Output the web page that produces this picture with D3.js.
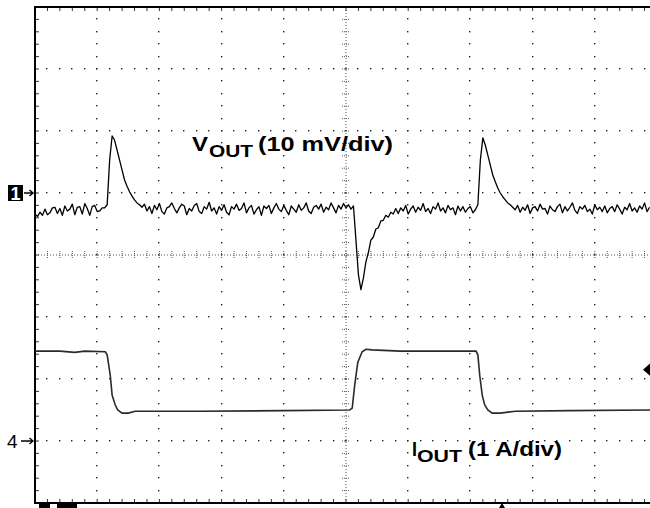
<!DOCTYPE html>
<html>
<head>
<meta charset="utf-8">
<script src="https://cdn.jsdelivr.net/npm/d3@7"></script>
<style>
  html, body { margin: 0; padding: 0; background: #fff; }
  svg { display: block; }
  .lbl { font-family: "Liberation Sans", Arial, sans-serif; font-weight: bold; fill: #000; }
</style>
</head>
<body>
<div id="scope"></div>
<script>
// load transient capture: ch1 = VOUT (10 mV/div, ac), ch4 = IOUT (1 A/div)

// ch1 record, one sample every sampleStep divisions, values in mV
var sampleStep = 0.04;
var voutMv = [
  -3.4,-3.8,-3.1,-3.6,-2.6,-3.5,-3.2,-2.4,-2.3,-3.3,-2.5,-3.6,-2.1,-2.9,-2.6,-1.8,-3.5,-2.3,-2.2,-3.4,-1.7,-2.5,-3.6,-2.2,-2.0,-3.0,-2.9,-2.4,
  -2.4,-1.9,5.3,9.2,8.5,6.9,5.3,3.7,2.1,1.1,0.2,-0.5,-1.1,-1.6,-1.9,-2.3,
  -1.8,-2.9,-2.2,-3.3,-2.0,-2.7,-1.7,-3.0,-3.4,-2.4,
  -2.2,-1.6,-2.5,-3.2,-2.4,-1.8,-2.1,-3.5,-2.5,-2.9,
  -2.0,-1.7,-3.0,-3.3,-2.2,-2.6,-1.5,-2.9,-2.4,-3.4,
  -2.2,-2.8,-1.9,-3.1,-3.5,-2.2,-2.6,-1.8,-2.8,-2.5,
  -1.6,-3.2,-2.4,-2.0,-3.4,-2.7,-2.2,-3.6,-2.1,-2.5,
  -2.0,-3.3,-2.4,-1.7,-2.6,-3.0,-2.0,-2.8,-3.5,-2.1,
  -2.6,-3.1,-1.9,-2.8,-2.4,-1.6,-2.9,-3.3,-2.3,-2.0,
  -2.6,-1.8,-3.1,-2.3,-2.7,-1.6,-2.4,-3.2,-2.0,-2.6,
  -1.7,-2.4,-1.9,-2.6,-2.1,
  -7.6,-13.2,-15.6,-13.7,-11.1,-9.6,-7.6,-7.1,-5.8,-5.6,-4.5,-4.4,-3.6,-3.9,-3.1,-3.4,
  -2.5,-3.3,-2.4,-2.9,-2.0,-3.4,-2.6,-2.1,-3.1,-2.3,
  -2.8,-1.7,-3.0,-2.5,-3.3,-2.2,-2.6,-1.6,-2.9,-2.4,
  -3.2,-2.0,-2.7,-2.4,-3.5,-2.1,-2.9,-2.2,-3.1,-2.5,
  -2.2,-3.2,-2.7,
  -1.9,5.3,8.9,7.7,6.1,4.5,2.9,1.8,0.8,0.0,-0.6,-1.1,-1.6,-1.9,-2.3,
  -2.7,-2.0,-3.1,-2.3,-2.8,-1.9,-3.3,-2.4,-2.2,-2.9,
  -1.8,-2.6,-2.5,-3.4,-2.1,-2.7,-3.0,-2.2,-1.8,-3.2,
  -2.2,-2.9,-2.3,-1.6,-2.8,-3.3,-2.2,-2.6,-2.0,-3.0,
  -2.6,-3.4,-1.9,-2.7,-2.3,-3.0,-2.1,-3.2,-2.5,-2.2,
  -3.0,-1.9,-2.6,-3.4,-2.3,-2.7,-1.7,-2.9,-2.4,-3.1,
  -2.1,-2.6,-1.6,-3.0,-2.3
];

// ch4 record, time in divisions, current in A
var ioutTime = [0, 0.40, 0.64, 0.80, 1.13, 1.16, 1.21, 1.24, 1.29, 1.33, 1.40, 1.50, 1.61, 2.65, 4.00, 5.06,
  5.10, 5.14, 5.19, 5.26, 5.32, 5.42, 5.87, 7.09,
  7.12, 7.15, 7.19, 7.23, 7.28, 7.35, 7.48, 7.72, 8.60, 9.95];
var ioutAmps = [1.45, 1.45, 1.43, 1.45, 1.44, 1.39, 1.06, 0.74, 0.58, 0.50, 0.45, 0.45, 0.48, 0.48, 0.49, 0.50,
  0.53, 0.90, 1.27, 1.44, 1.48, 1.47, 1.45, 1.45,
  1.39, 1.06, 0.74, 0.58, 0.50, 0.45, 0.45, 0.48, 0.49, 0.50];

// channel settings (divisions from screen centre)
var ch1Position = 1, ch4Position = -3;
var mvPerDiv = 10, ampsPerDiv = 1;
var triggerLevel = 1.15;   // A on ch4

var width = 650, height = 508;
var screen = {left: 35, right: 657, top: 7, bottom: 503};

var svg = d3.select("#scope")
  .append("svg")
  .attr("width", width)
  .attr("height", height);

svg.append("rect")
  .attr("width", width)
  .attr("height", height)
  .attr("fill", "#fff");

// screen: 10 x 8 divisions
var x = d3.scaleLinear().domain([0, 10]).range([screen.left, screen.right]);
var gy = d3.scaleLinear().domain([-4, 4]).range([screen.bottom, screen.top]);
var yV = d3.scaleLinear()
  .domain([(-4 - ch1Position) * mvPerDiv, (4 - ch1Position) * mvPerDiv])
  .range([screen.bottom, screen.top]);
var yI = d3.scaleLinear()
  .domain([(-4 - ch4Position) * ampsPerDiv, (4 - ch4Position) * ampsPerDiv])
  .range([screen.bottom, screen.top]);

var minorX = d3.range(0, 51).map(function (i) { return i / 5; });
var minorY = d3.range(-20, 21).map(function (i) { return i / 5; });

var grid = svg.append("g").attr("class", "grid");

// dotted graticule
var dots = [];
[1, 2, 3, 4, 6, 7, 8, 9].forEach(function (k) {
  minorY.forEach(function (v) { dots.push({t: k, v: v}); });
});
[-3, -2, -1, 1, 2, 3].forEach(function (m) {
  minorX.forEach(function (t) { dots.push({t: t, v: m}); });
});
grid.selectAll("rect.dot")
  .data(dots)
  .enter().append("rect")
  .attr("class", "dot")
  .attr("x", function (d) { return Math.round(x(d.t)) - 1; })
  .attr("y", function (d) { return Math.round(gy(d.v)) - 1; })
  .attr("width", 1.4)
  .attr("height", 1.4)
  .attr("fill", "#222");

// centre axes with small cross ticks
grid.append("line")
  .attr("x1", x(5)).attr("x2", x(5))
  .attr("y1", screen.top).attr("y2", screen.bottom)
  .attr("stroke", "#555").attr("stroke-width", 1)
  .attr("stroke-dasharray", "1,2");
grid.append("line")
  .attr("x1", screen.left).attr("x2", screen.right)
  .attr("y1", gy(0)).attr("y2", gy(0))
  .attr("stroke", "#555").attr("stroke-width", 1)
  .attr("stroke-dasharray", "1,2");
grid.selectAll("line.vtick")
  .data(minorY)
  .enter().append("line")
  .attr("class", "vtick")
  .attr("x1", x(5) - 4).attr("x2", x(5) + 4)
  .attr("y1", function (d) { return gy(d); })
  .attr("y2", function (d) { return gy(d); })
  .attr("stroke", "#555").attr("stroke-dasharray", "1,1");
grid.selectAll("line.htick")
  .data(minorX)
  .enter().append("line")
  .attr("class", "htick")
  .attr("x1", function (d) { return x(d); })
  .attr("x2", function (d) { return x(d); })
  .attr("y1", gy(0) - 4).attr("y2", gy(0) + 4)
  .attr("stroke", "#555").attr("stroke-dasharray", "1,1");

// border ticks
grid.selectAll("line.ttick")
  .data(minorX)
  .enter().append("line")
  .attr("class", "ttick")
  .attr("x1", function (d) { return x(d); })
  .attr("x2", function (d) { return x(d); })
  .attr("y1", screen.top).attr("y2", screen.top + 4)
  .attr("stroke", "#333");
grid.selectAll("line.btick")
  .data(minorX)
  .enter().append("line")
  .attr("class", "btick")
  .attr("x1", function (d) { return x(d); })
  .attr("x2", function (d) { return x(d); })
  .attr("y1", screen.bottom - 4).attr("y2", screen.bottom)
  .attr("stroke", "#333");
grid.selectAll("line.ltick")
  .data(minorY)
  .enter().append("line")
  .attr("class", "ltick")
  .attr("x1", screen.left).attr("x2", screen.left + 4)
  .attr("y1", function (d) { return gy(d); })
  .attr("y2", function (d) { return gy(d); })
  .attr("stroke", "#333");

// frame
grid.append("rect")
  .attr("x", screen.left)
  .attr("y", screen.top)
  .attr("width", screen.right - screen.left)
  .attr("height", screen.bottom - screen.top)
  .attr("fill", "none")
  .attr("stroke", "#000")
  .attr("stroke-width", 2);

// traces
svg.append("path")
  .datum(ioutAmps)
  .attr("fill", "none")
  .attr("stroke", "#2a2a2a")
  .attr("stroke-width", 1.6)
  .attr("d", d3.line()
    .x(function (d, i) { return x(ioutTime[i]); })
    .y(function (d) { return yI(d); }));

svg.append("path")
  .datum(voutMv)
  .attr("fill", "none")
  .attr("stroke", "#000")
  .attr("stroke-width", 1.3)
  .attr("stroke-linejoin", "round")
  .attr("d", d3.line()
    .x(function (d, i) { return x(i * sampleStep); })
    .y(function (d) { return yV(d); }));

// channel ground markers
var m1 = svg.append("g").attr("transform", "translate(0," + yV(0) + ")");
m1.append("rect")
  .attr("x", 8).attr("y", -8)
  .attr("width", 15).attr("height", 16)
  .attr("fill", "#000");
m1.append("text")
  .attr("x", 15.5).attr("y", 6.5)
  .attr("text-anchor", "middle")
  .attr("font-family", "Liberation Sans, Arial, sans-serif")
  .attr("font-weight", "bold")
  .attr("font-size", 18)
  .attr("fill", "#fff")
  .text("1");
m1.append("path")
  .attr("d", "M24,0H33M29.5,-3L33,0L29.5,3")
  .attr("fill", "none")
  .attr("stroke", "#000")
  .attr("stroke-width", 1.5);

var m4 = svg.append("g").attr("transform", "translate(0," + yI(0) + ")");
m4.append("text")
  .attr("x", 7).attr("y", 7)
  .attr("font-family", "Liberation Sans, Arial, sans-serif")
  .attr("font-size", 19)
  .text("4");
m4.append("path")
  .attr("d", "M21,0H33M29.5,-3L33,0L29.5,3")
  .attr("fill", "none")
  .attr("stroke", "#000")
  .attr("stroke-width", 1.3);

// trigger level (right edge) and position marks (bottom edge)
svg.append("path")
  .attr("d", "M643," + yI(triggerLevel) + "l8,-7v14z")
  .attr("fill", "#000");
svg.append("rect").attr("x", 39).attr("y", 504).attr("width", 11).attr("height", 4).attr("fill", "#000");
svg.append("rect").attr("x", 57).attr("y", 504).attr("width", 20).attr("height", 4).attr("fill", "#000");
svg.append("path")
  .attr("d", "M502,503l-3,5h6z")
  .attr("fill", "#000");

// trace labels
function label(x0, base, main, sub, rest, mainLen, subLen, restLen, subX, restX) {
  var g = svg.append("g");
  g.append("text").attr("class", "lbl")
    .attr("x", x0).attr("y", base)
    .attr("font-size", 20)
    .attr("textLength", mainLen).attr("lengthAdjust", "spacingAndGlyphs")
    .text(main);
  g.append("text").attr("class", "lbl")
    .attr("x", subX).attr("y", base + 6)
    .attr("font-size", 16)
    .attr("textLength", subLen).attr("lengthAdjust", "spacingAndGlyphs")
    .text(sub);
  g.append("text").attr("class", "lbl")
    .attr("x", restX).attr("y", base)
    .attr("font-size", 20)
    .attr("textLength", restLen).attr("lengthAdjust", "spacingAndGlyphs")
    .text(rest);
}
label(192, 151, "V", "OUT", "(10 mV/div)", 16, 44, 135, 209, 258);
label(412, 456, "I", "OUT", "(1 A/div)", 5, 45, 94, 417, 468);
</script>
</body>
</html>
